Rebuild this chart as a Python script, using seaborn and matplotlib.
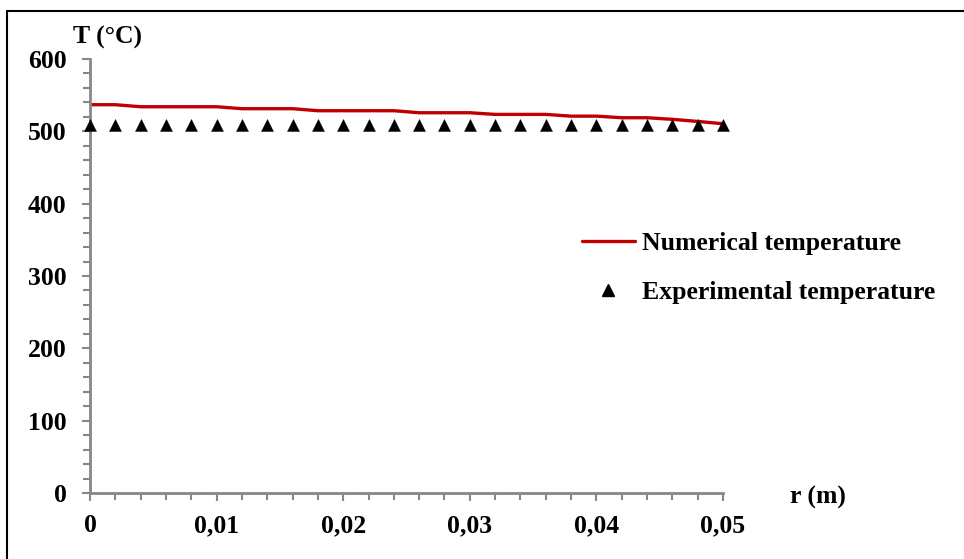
import numpy as np
import pandas as pd
import matplotlib
matplotlib.use("Agg")
import matplotlib.pyplot as plt
import seaborn as sns
from matplotlib.ticker import MultipleLocator
from matplotlib.lines import Line2D

# Data
r_num = [0.000, 0.002, 0.004, 0.006, 0.008, 0.010, 0.012, 0.014, 0.016, 0.018,
         0.020, 0.022, 0.024, 0.026, 0.028, 0.030, 0.032, 0.034, 0.036, 0.038,
         0.040, 0.042, 0.044, 0.046, 0.048, 0.050]
t_num = [536.8, 536.8, 534.0, 534.0, 534.0, 534.0, 531.3, 531.3, 531.3, 528.5,
         528.5, 528.5, 528.5, 525.7, 525.7, 525.7, 523.4, 523.4, 523.4, 521.0,
         521.0, 518.8, 518.8, 516.6, 513.7, 510.5]
r_exp = list(r_num)
t_exp = [508.5] * 26
x_ticks = [0, 0.01, 0.02, 0.03, 0.04, 0.05]
x_ticklabels = ["0", "0,01", "0,02", "0,03", "0,04", "0,05"]
y_ticks = [0, 100, 200, 300, 400, 500, 600]

sns.set_style("white")
plt.rcParams['font.family'] = ['Liberation Serif', 'DejaVu Serif']
plt.rcParams['font.weight'] = 'bold'
plt.rcParams['text.color'] = 'black'
plt.rcParams['axes.labelcolor'] = 'black'
plt.rcParams['xtick.color'] = 'black'
plt.rcParams['ytick.color'] = 'black'

FS = 18.5
fig = plt.figure(figsize=(9.64, 5.59), dpi=100)
ax = fig.add_axes([90/964, 1-493/559, (723-90)/964, (493-59)/559])

df_num = pd.DataFrame({"r": r_num, "T": t_num})
df_exp = pd.DataFrame({"r": r_exp, "T": t_exp})
sns.lineplot(data=df_num, x="r", y="T", ax=ax, color="#C00000", linewidth=2.4)
sns.scatterplot(data=df_exp, x="r", y="T", ax=ax, marker="^", color="black",
                s=75, edgecolor="black", linewidth=0.3, zorder=3, clip_on=False)

ax.set_xlim(0, 0.05)
ax.set_ylim(0, 600)
ax.set_xticks(x_ticks)
ax.set_xticklabels(x_ticklabels)
ax.set_yticks(y_ticks)
ax.xaxis.set_minor_locator(MultipleLocator(0.002))
ax.yaxis.set_minor_locator(MultipleLocator(20))
ax.set_xlabel("")
ax.set_ylabel("")

for s in ["top", "right"]:
    ax.spines[s].set_visible(False)
for s in ["left", "bottom"]:
    ax.spines[s].set_color("#878787")
    ax.spines[s].set_linewidth(2.0)

ax.tick_params(which="both", bottom=True, left=True, top=False, right=False)
ax.tick_params(which="major", direction="out", length=6, width=1.5, color="#878787",
               labelsize=FS, labelcolor="black")
ax.tick_params(which="minor", direction="out", length=5, width=1.5, color="#878787")
ax.tick_params(axis="x", which="major", pad=9)
ax.tick_params(axis="y", which="major", pad=11)
for lab in ax.get_xticklabels() + ax.get_yticklabels():
    lab.set_fontweight("bold")

fig.text(73/964, 1-37/559, "T (°C)", fontsize=FS, fontweight="bold", va="center", ha="left",
         color="black")
fig.text(790/964, 1-497/559, "r (m)", fontsize=FS, fontweight="bold", va="center", ha="left",
         color="black")

handles = [Line2D([], [], color="#C00000", linewidth=2.4),
           Line2D([], [], color="black", marker="^", linestyle="None", markersize=8)]
leg = fig.legend(handles, ["Numerical temperature", "Experimental temperature"],
                 loc="upper left", bbox_to_anchor=(582/964, 1-232/559),
                 frameon=False, prop={"size": FS, "weight": "bold"},
                 borderpad=0, borderaxespad=0, labelcolor="black",
                 handlelength=2.06, handletextpad=0.27, labelspacing=1.0)

# figure frame (top and left visible)
fig.add_artist(Line2D([7/964, 7/964], [0, 1-11/559], transform=fig.transFigure,
                      color="black", linewidth=1.5))
fig.add_artist(Line2D([7/964, 1], [1-11/559, 1-11/559], transform=fig.transFigure,
                      color="black", linewidth=1.5))

fig.savefig("out.png", dpi=100)
